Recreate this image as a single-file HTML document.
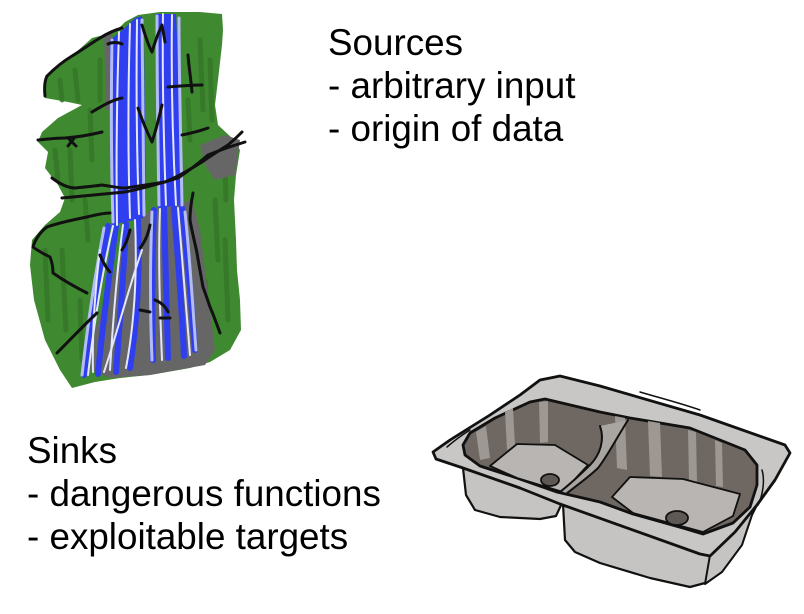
<!DOCTYPE html>
<html><head><meta charset="utf-8"><style>
html,body{margin:0;padding:0;background:#fff;}
body{width:804px;height:614px;position:relative;overflow:hidden;font-family:"Liberation Sans",Arial,sans-serif;}
.t{position:absolute;font-size:36.8px;line-height:43px;color:#000;white-space:pre;}
svg{position:absolute;left:0;top:0;}
</style></head><body>
<svg width="804" height="614" viewBox="0 0 804 614">
<!-- WATERFALL -->
<g stroke-linecap="round" stroke-linejoin="round">
<polygon fill="#3f8a30" points="138,15 160,12 200,12 222,14 223,30 222,45 218,80 215,105 218,125 232,138 240,150 236,175 234,200 236,240 237,270 240,300 241,330 230,350 210,362 190,368 150,375 120,378 95,382 72,388 60,370 45,340 34,300 30,265 32,240 45,225 60,212 65,198 58,185 45,168 48,152 38,142 42,132 58,118 82,105 68,102 45,98 45,78 65,62 92,38 115,32 125,22"/>
<g stroke="#357527" stroke-width="5" fill="none" opacity="0.85">
<path d="M60,80 L62,100 M75,70 L78,100 M55,150 L58,180 M70,150 L72,200 M90,110 L92,160 M85,200 L88,240 M45,250 L48,320 M62,250 L66,330 M80,300 L82,360 M200,40 L203,110 M210,60 L212,120 M215,200 L218,260 M225,240 L228,320 M205,280 L208,340 M100,60 L100,100 M188,100 L190,140 M225,160 L226,200"/>
</g>
<polygon fill="#666" points="200,145 225,135 240,140 235,175 215,180 205,165"/>
<polygon fill="#666" points="150,210 175,205 192,200 200,230 205,270 210,310 215,350 205,365 150,375 110,378 90,370 95,330 105,300 115,270 125,240 140,220"/>
<polygon fill="#666" points="104,34 112,30 112,110 106,110"/>
<!-- blue columns -->
<polygon fill="#2f3ff0" points="110,40 125,28 135,18 142,16 144,40 145,120 146,200 143,218 112,225 110,150"/>
<polygon fill="#2f3ff0" points="156,14 176,14 178,60 180,150 182,205 158,208 157,150 156,60"/>
<!-- lower cascades as strands -->
<g fill="none" stroke="#2f3ff0" stroke-width="6">
<path d="M108,226 C100,270 90,320 84,375"/>
<path d="M116,226 C110,270 103,320 98,374"/>
<path d="M126,224 C124,270 120,320 116,372"/>
<path d="M138,220 C140,265 138,315 130,368"/>
<path d="M154,210 C152,260 152,310 153,360"/>
<path d="M164,208 C165,260 167,310 168,358"/>
<path d="M174,208 C178,260 182,310 184,356"/>
<path d="M182,208 C188,260 192,310 195,350"/>
</g>
<g fill="none" stroke="#b4bcf4" stroke-width="3">
<path d="M112,40 C111,100 111,160 113,222"/>
<path d="M142,20 C143,90 144,160 144,215"/>
<path d="M157,16 C157,80 158,150 159,205"/>
<path d="M179,18 C179,80 181,150 182,205"/>
<path d="M104,228 C96,270 88,320 82,375"/>
<path d="M152,212 C150,260 150,310 152,360"/>
<path d="M185,212 C190,260 193,310 196,350"/>
</g>
<g fill="none" stroke="#e4e7fc" stroke-width="2">
<path d="M119,32 C117,90 116,160 117,225"/>
<path d="M130,24 C128,90 128,160 130,218"/>
<path d="M137,20 C136,90 137,160 139,214"/>
<path d="M163,14 C162,80 164,150 166,205"/>
<path d="M172,15 C171,80 173,150 176,205"/>
<path d="M113,226 C104,265 95,315 88,375"/>
<path d="M123,225 C117,270 113,320 110,370"/>
<path d="M135,220 C137,265 136,315 126,368"/>
<path d="M160,209 C158,260 160,310 162,360"/>
<path d="M178,208 C182,260 186,310 190,355"/>
<path d="M100,250 C95,290 92,330 93,372"/>
<path d="M142,250 C128,290 118,330 104,372"/>
</g>
<!-- black lines -->
<g fill="none" stroke="#111" stroke-width="3">
<path d="M45,96 C44,86 45,80 47,76 C55,68 62,62 72,56 C82,50 90,44 100,38 C108,33 115,30 122,28"/>
<path d="M108,44 C112,42 118,42 122,44"/>
<path d="M142,25 C145,35 148,45 152,52 C155,42 158,33 162,25 L165,42"/>
<path d="M168,87 C180,86 192,85 202,85 M188,55 C189,68 191,80 192,92"/>
<path d="M92,112 C102,106 112,100 122,98"/>
<path d="M38,140 C48,139 57,138 65,138 C78,137 90,135 102,132 M68,138 L76,146 M75,137 L68,146"/>
<path d="M138,108 C142,120 147,132 152,142 C156,130 159,118 162,105"/>
<path d="M182,135 C192,133 200,131 208,128"/>
<path d="M52,178 C60,184 68,188 75,188 C85,187 95,186 102,185 C110,186 118,188 125,188 C140,186 152,184 165,182 C180,176 192,168 202,162 C212,155 220,150 228,145 C234,140 238,136 242,132"/>
<path d="M62,198 C85,196 105,194 125,192 C145,188 162,183 178,178 C190,170 200,162 208,155 C220,150 232,146 245,142"/>
<path d="M193,193 C191,203 190,212 190,220 C192,232 195,243 197,253 C199,265 201,276 203,287 C206,295 208,301 210,307 C214,316 217,325 220,333"/>
<path d="M87,217 C95,215 103,213 110,213 M87,217 C72,220 58,223 47,227 C40,232 35,240 33,247 C38,251 44,254 50,257 C52,262 53,268 53,273 C63,280 75,287 87,293"/>
<path d="M57,353 C70,340 83,326 97,313"/>
<path d="M130,230 C128,238 126,244 122,250 M150,225 C148,235 145,242 140,248 M100,255 C103,262 106,268 110,272 M140,310 L150,312 M155,300 C160,302 165,305 168,312 M160,318 L170,318"/>
</g>
</g>

<!-- SINK -->
<g stroke-linejoin="round" stroke-linecap="round">
<polygon fill="#c6c4c2" stroke="#111" stroke-width="2.2" points="463,468 466,495 475,510 500,517 540,519 556,516 562,503"/>
<polygon fill="#c6c4c2" stroke="#111" stroke-width="2.2" points="563,504 565,540 575,552 600,563 650,578 690,587 705,583 712,570 710,555"/>
<polygon fill="#c6c4c2" stroke="#111" stroke-width="2" points="710,555 757,505 752,515 742,545 722,572 705,584"/>
<polygon fill="#c9c7c5" stroke="#111" stroke-width="2.8" points="540,380 560,376 600,386 700,415 785,445 790,453 775,480 757,505 735,532 710,556 700,554 560,504 520,488 463,468 436,459 433,452 450,440 490,415 520,395"/>
<polygon fill="#6e6762" stroke="#111" stroke-width="2.8" points="463,445 470,433 495,418 530,402 545,399 600,412 630,418 690,428 745,450 757,465 757,485 750,507 733,523 703,534 683,528 633,514 600,502 557,492 517,478 480,466 465,455"/>
<g fill="#9d9893">
<polygon points="505,412 513,408 515,446 507,450"/>
<polygon points="539,402 548,401 548,442 540,443"/>
<polygon points="476,432 486,426 490,458 480,460"/>
<polygon points="648,421 660,423 662,477 650,476"/>
<polygon points="688,430 696,432 697,482 689,481"/>
<polygon points="715,440 722,443 723,487 716,486"/>
<polygon points="615,416 625,418 627,470 617,468"/>
</g>
<polygon fill="#b8b5b2" stroke="#111" stroke-width="1.8" points="490,466 517,444 555,445 588,465 563,492 517,478"/>
<polygon fill="#b8b5b2" stroke="#111" stroke-width="1.8" points="612,497 630,477 683,479 740,494 733,516 703,532 633,513"/>
<path d="M600,426 C605,440 600,455 590,465 C580,475 570,484 560,492 L566,494 C576,486 590,476 598,468 C606,458 612,446 628,420" fill="#a9a5a1" stroke="#111" stroke-width="2"/>
<ellipse cx="550" cy="480" rx="9" ry="6" fill="#5f5955" stroke="#111" stroke-width="1.8"/>
<ellipse cx="677" cy="518" rx="11" ry="7" fill="#5f5955" stroke="#111" stroke-width="1.8"/>
<g fill="none" stroke="#111" stroke-width="1.5">
<path d="M447,447 C455,440 462,435 470,430"/>
<path d="M762,470 C765,480 763,495 758,505"/>
<path d="M640,392 C660,398 680,403 700,410"/>
</g>
</g>
</svg>
<div class="t" style="left:328px;top:21px;">Sources
- arbitrary input
- origin of data</div>
<div class="t" style="left:27px;top:429px;">Sinks
- dangerous functions
- exploitable targets</div>
</body></html>
